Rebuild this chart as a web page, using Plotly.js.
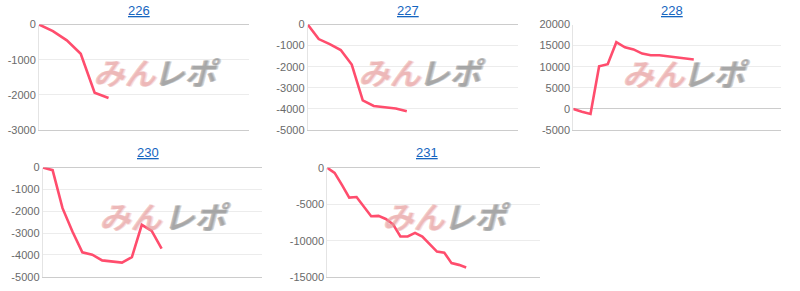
<!DOCTYPE html>
<html>
<head>
<meta charset="utf-8">
<script src="https://cdn.plot.ly/plotly-3.0.1.min.js"></script>
<style>html,body{margin:0;padding:0;background:#fff;}#chart{width:800px;height:291px;}</style>
</head>
<body>
<div id="chart"></div>
<script>
// ---- data ----
const chartNames = ["226", "227", "228", "230", "231"];
const values226 = [0, -190, -450, -830, -1940, -2090];
const values227 = [0, -690, -930, -1210, -1900, -3600, -3860, -3930, -3980, -4110];
const values228 = [0, -700, -1200, 10100, 10600, 15800, 14600, 14100, 13100, 12700, 12700, 12450, 12300, 12050, 11700];
const values230 = [0, -120, -1860, -2930, -3880, -3990, -4250, -4300, -4350, -4100, -2620, -2900, -3710];
const values231 = [0, -690, -2350, -4080, -4010, -5270, -6640, -6590, -7020, -7750, -9420, -9420, -8920, -9440, -10510, -11490, -11630, -13070, -13310, -13680];
const ticks226 = [0, -1000, -2000, -3000];
const ticks227 = [0, -1000, -2000, -3000, -4000, -5000];
const ticks228 = [20000, 15000, 10000, 5000, 0, -5000];
const ticks230 = [0, -1000, -2000, -3000, -4000, -5000];
const ticks231 = [0, -5000, -10000, -15000];
const watermarkA = "みん";
const watermarkB = "レポ";

const series = [values226, values227, values228, values230, values231];
const tickSets = [ticks226, ticks227, ticks228, ticks230, ticks231];

// ---- layout geometry (pixels) ----
const W = 800, H = 291;
const boxes = [
  {x0: 39,    x1: 249,   y0: 24.5,  y1: 130,   tx: 139,   ty: 11,  wa: 124, wb: 186, wy: 71},
  {x0: 307.7, x1: 518,   y0: 24.5,  y1: 130,   tx: 408,   ty: 11,  wa: 389, wb: 451, wy: 71},
  {x0: 573.3, x1: 780.7, y0: 24.5,  y1: 130,   tx: 671.7, ty: 11,  wa: 653, wb: 715, wy: 72},
  {x0: 42.7,  x1: 261.7, y0: 167.5, y1: 276.8, tx: 147.7, ty: 152, wa: 130, wb: 196, wy: 215},
  {x0: 327.3, x1: 540,   y0: 167.8, y1: 277.2, tx: 426.7, ty: 152, wa: 413, wb: 476, wy: 215}
];

const traces = [];
const layout = {
  width: W, height: H,
  margin: {l: 0, r: 0, t: 0, b: 0},
  paper_bgcolor: "#ffffff",
  plot_bgcolor: "rgba(0,0,0,0)",
  showlegend: false,
  font: {family: "Liberation Sans, Arial, sans-serif", size: 11, color: "#666666"},
  annotations: []
};

const pink = "rgba(230,150,150,0.48)";
const gray = "rgba(150,150,150,0.6)";

series.forEach((vals, i) => {
  const b = boxes[i];
  const sfx = i === 0 ? "" : String(i + 1);
  const xs = vals.map((v, k) => k);
  // watermark
  layout.annotations.push({
    xref: "paper", yref: "paper",
    x: b.wa / W, y: 1 - b.wy / H,
    xanchor: "center", yanchor: "middle",
    text: "<i>" + watermarkA + "</i>", showarrow: false,
    font: {family: "Noto Sans CJK JP", size: 31, weight: 700, color: pink,
           shadow: "1px 0 0 " + pink + ", 2px 0 0 " + pink}
  });
  layout.annotations.push({
    xref: "paper", yref: "paper",
    x: b.wb / W, y: 1 - b.wy / H,
    xanchor: "center", yanchor: "middle",
    text: "<i>" + watermarkB + "</i>", showarrow: false,
    font: {family: "Noto Sans CJK JP", size: 31, weight: 700, color: gray,
           shadow: "1px 0 0 " + gray + ", 2px 0 0 " + gray}
  });
  traces.push({
    type: "scatter", mode: "lines",
    x: xs, y: vals,
    xaxis: "x" + sfx, yaxis: "y" + sfx,
    line: {color: "#ff4d6d", width: 2.6},
    hoverinfo: "skip"
  });
  const ticks = tickSets[i];
  const tmin = Math.min(...ticks), tmax = Math.max(...ticks);
  layout["xaxis" + sfx] = {
    domain: [b.x0 / W, b.x1 / W],
    anchor: "y" + sfx,
    range: [0, vals.length + 9.1],
    showgrid: false, zeroline: false, showticklabels: false,
    showline: true, linecolor: "#cccccc", linewidth: 1,
    ticks: "", fixedrange: true
  };
  layout["yaxis" + sfx] = {
    domain: [1 - b.y1 / H, 1 - b.y0 / H],
    anchor: "x" + sfx,
    range: [tmin, tmax],
    tickmode: "array",
    tickvals: ticks,
    ticktext: ticks.map(t => String(t)),
    showgrid: true, gridcolor: "#ececec", gridwidth: 1,
    zeroline: true, zerolinecolor: "#cccccc", zerolinewidth: 1,
    showline: true, linecolor: "#e4e4e4", linewidth: 1,
    ticks: "", ticklen: 0,
    tickfont: {family: "Liberation Sans, Arial, sans-serif", size: 11, color: "#6a6a6a"},
    fixedrange: true
  };
  // title
  layout.annotations.push({
    xref: "paper", yref: "paper",
    x: b.tx / W, y: 1 - b.ty / H,
    xanchor: "center", yanchor: "middle",
    text: chartNames[i], showarrow: false,
    font: {family: "Liberation Sans, Arial, sans-serif", size: 13, color: "#1565c0", lineposition: "under"}
  });
});

Plotly.newPlot("chart", traces, layout, {staticPlot: true, displayModeBar: false});
</script>
</body>
</html>
